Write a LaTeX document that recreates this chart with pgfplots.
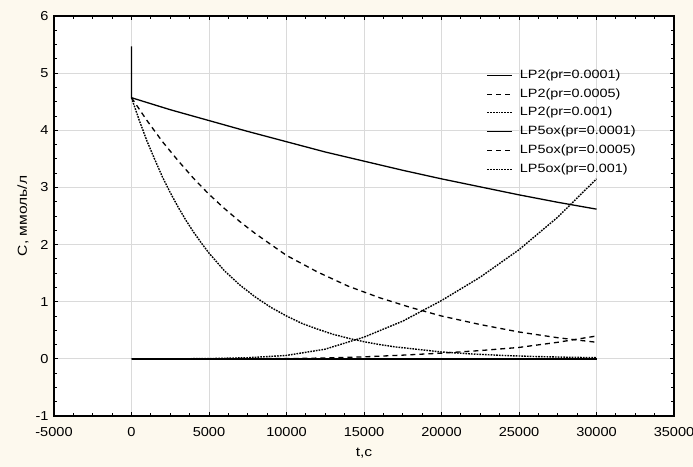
\documentclass[border=0pt]{standalone}
\usepackage{fontspec}
\setmainfont{Liberation Sans}[FakeStretch=1.12]
\newfontfamily\widefont{Liberation Sans}[FakeStretch=1.2]
\usepackage{pgfplots}
\pgfplotsset{compat=1.18}
\definecolor{bgc}{RGB}{253,249,238}
\definecolor{gridc}{RGB}{218,218,218}
\begin{document}
\begin{tikzpicture}
\fill[bgc] (-54bp,-51bp) rectangle (639bp,416bp);
\useasboundingbox (-54bp,-51bp) rectangle (639bp,416bp);
\begin{axis}[
  at={(0,0)}, anchor=south west,
  scale only axis, width=620bp, height=400bp,
  xmin=-5000, xmax=35000, ymin=-1, ymax=6,
  scaled x ticks=false, scaled y ticks=false,
  xtick={-5000,0,5000,10000,15000,20000,25000,30000,35000},
  xticklabels={-5000,0,5000,10000,15000,20000,25000,30000,35000},
  ytick={-1,0,1,2,3,4,5,6},
  yticklabels={-1,0,1,2,3,4,5,6},
  minor x tick num=3, minor y tick num=3,
  tick align=inside, major tick length=4bp, minor tick length=3bp,
  tick style={black, line width=0.8bp},
  axis line style={line width=1.4bp},
  grid=major, major grid style={gridc, line width=0.8bp},
  axis background/.style={fill=white},
  tick label style={font=\fontsize{13bp}{15bp}\selectfont},
  xticklabel style={yshift=-8bp},
  yticklabel style={xshift=-2bp},
  xlabel={t,с}, ylabel={С, ммоль/л},
  label style={font=\widefont\fontsize{13bp}{15bp}\selectfont},
  xlabel style={at={(axis description cs:0.5,-0.092)}, anchor=center},
  ylabel style={at={(axis description cs:-0.05,0.5)}, anchor=center},
  legend style={draw=none, fill=none, at={(0.698,0.866)}, anchor=north west,
    inner sep=0pt, row sep=7.8bp, font=\widefont\fontsize{12bp}{14bp}\selectfont,
    nodes={inner sep=0pt, text height=8.5bp, text depth=2.5bp},
    /tikz/every odd column/.style={column sep=7bp}},
  legend cell align=left,
  legend image code/.code={\draw[#1, line width=1bp] (0bp,0bp) -- (25bp,0bp);},
]
\addplot[black, line width=1.3bp] coordinates {
(0,5.47)(0,4.57)(2500,4.36)(5000,4.17)(7500,3.98)(10000,3.80)(12500,3.62)(15000,3.46)
(17500,3.30)(20000,3.15)(22500,3.01)(25000,2.87)(27500,2.74)(30000,2.62)};
\addlegendentry{LP2(pr=0.0001)}
\addplot[black, line width=1.3bp, dash pattern=on 5bp off 4bp] coordinates {
(0,4.57)(1000,4.17)(2000,3.80)(3000,3.47)(4000,3.16)(5000,2.88)(6000,2.63)(7000,2.40)
(8000,2.19)(9000,2.00)(10000,1.81)(12000,1.52)(14000,1.27)(16000,1.07)(18000,0.90)
(20000,0.75)(22500,0.60)(25000,0.47)(27500,0.37)(30000,0.29)};
\addlegendentry{LP2(pr=0.0005)}
\addplot[black, line width=1.4bp, dash pattern=on 1.7bp off 1.1bp] coordinates {
(0,4.57)(500,4.175)(1000,3.81)(1500,3.49)(2000,3.18)(2500,2.91)(3000,2.66)(3500,2.43)
(4000,2.22)(4500,2.03)(5000,1.85)(6000,1.54)(7000,1.29)(8000,1.08)(9000,0.90)(10000,0.75)
(11000,0.62)(12000,0.52)(13000,0.43)(14000,0.36)(15000,0.30)(16000,0.25)(17000,0.21)
(18000,0.18)(19000,0.15)(20000,0.12)(22000,0.085)(24000,0.059)(26000,0.041)(28000,0.029)(30000,0.02)};
\addlegendentry{LP2(pr=0.001)}
\addplot[black, line width=1.3bp] coordinates {(0,0)(30000,0)};
\addlegendentry{LP5ox(pr=0.0001)}
\addplot[black, line width=1.3bp, dash pattern=on 5bp off 4bp] coordinates {
(0,0)(5000,0)(10000,0.005)(12500,0.015)(15000,0.035)(17500,0.065)(20000,0.10)
(22500,0.145)(25000,0.20)(27500,0.29)(30000,0.40)};
\addlegendentry{LP5ox(pr=0.0005)}
\addplot[black, line width=1.4bp, dash pattern=on 1.7bp off 1.1bp] coordinates {
(0,0)(2500,0)(5000,0.005)(7500,0.02)(10000,0.06)(12500,0.17)(15000,0.38)(17500,0.66)
(20000,1.02)(22500,1.43)(25000,1.91)(27500,2.48)(30000,3.15)};
\addlegendentry{LP5ox(pr=0.001)}
\end{axis}
\end{tikzpicture}
\end{document}
